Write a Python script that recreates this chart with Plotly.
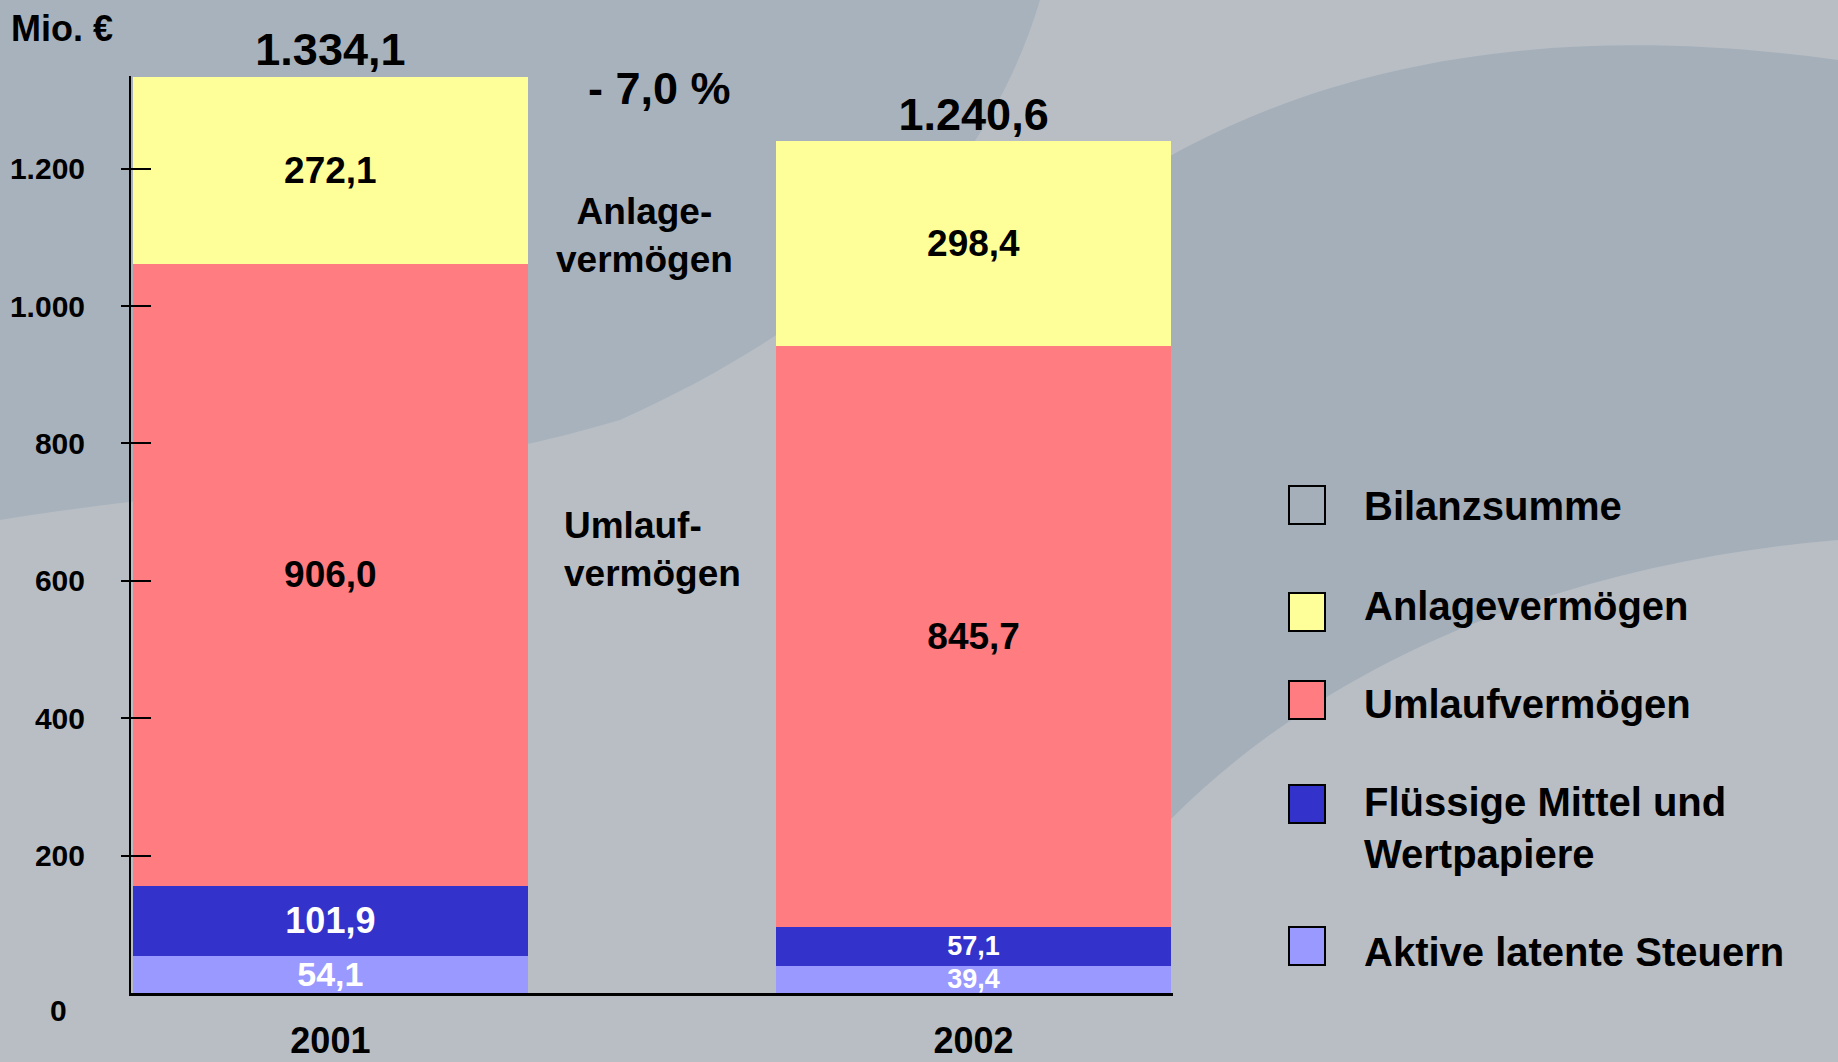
import plotly.graph_objects as go

# ---- data ----
years = ["2001", "2002"]
series_names = ["Aktive latente Steuern", "Flüssige Mittel und Wertpapiere",
                "Umlaufvermögen", "Anlagevermögen"]
aktive_latente_steuern = [54.1, 39.4]
fluessige_mittel = [101.9, 57.1]
umlaufvermoegen = [906.0, 845.7]
anlagevermoegen = [272.1, 298.4]
series_values = [aktive_latente_steuern, fluessige_mittel, umlaufvermoegen, anlagevermoegen]
series_colors = ["#9999ff", "#3333cc", "#ff7c80", "#ffff99"]
text_colors = ["white", "white", "black", "black"]
text_sizes = [[34, 27], [36, 27], [37, 37], [37, 37]]
y_ticks = [0, 200, 400, 600, 800, 1000, 1200]
legend_names = ["Bilanzsumme", "Anlagevermögen", "Umlaufvermögen",
                "Flüssige Mittel und<br>Wertpapiere", "Aktive latente Steuern"]
legend_colors = ["rgba(0,0,0,0)", "#ffff99", "#ff7c80", "#3333cc", "#9999ff"]

totals = [round(sum(v[i] for v in series_values), 1) for i in range(len(years))]
pct = (totals[1] - totals[0]) / totals[0] * 100

FONT = "Liberation Sans, Arial, sans-serif"
W, H = 1838, 1062
L, R, T, B = 131, 1173, 76, 993
Y_MAX = 1335


def px(x):
    return (x - L) / (R - L)


def py(y):
    return (B - y) / (B - T)


fig = go.Figure()

for name, vals, col, tcol, tsize in zip(series_names, series_values, series_colors,
                                       text_colors, text_sizes):
    fig.add_trace(go.Bar(
        x=years, y=vals, name=name,
        marker=dict(color=col, line=dict(width=0)),
        texttemplate="%{y:,.1f}", textposition="inside", insidetextanchor="middle",
        textangle=0, constraintext="none",
        insidetextfont=dict(family=FONT, size=tsize, color=tcol, weight="bold"),
        showlegend=False,
    ))

fig.add_trace(go.Scatter(
    x=years, y=totals, mode="text", name="Bilanzsumme",
    texttemplate="%{y:,.1f}", textposition="top center",
    textfont=dict(family=FONT, size=45, color="black", weight="bold"),
    cliponaxis=False, showlegend=False,
))


def path(cmds):
    out = []
    for c in cmds:
        if isinstance(c, str):
            out.append(c)
        else:
            out.append(f"{px(c[0]):.4f},{py(c[1]):.4f}")
    return " ".join(out)


shapes = []
# background decoration (approximation of the slide background)
shapes.append(dict(type="path", xref="paper", yref="paper", layer="below",
                   path=path(["M", (0, 0), "L", (1040, 0), "C", (980, 200), (820, 330), (620, 420),
                              "C", (420, 480), (180, 490), (0, 520), "Z"]),
                   fillcolor="#a8b2bc", line=dict(width=0)))
shapes.append(dict(type="path", xref="paper", yref="paper", layer="below",
                   path=path(["M", (1100, 200), "C", (1300, 60), (1550, 20), (W, 60),
                              "L", (W, 540), "C", (1600, 560), (1350, 640), (1170, 820),
                              "L", (1100, 820), "Z"]),
                   fillcolor="#a5afba", line=dict(width=0)))

# legend squares
legend_box_y = [505, 612, 700, 804, 946]
legend_text_y = [506, 606, 704, 828, 952]
for yc, col in zip(legend_box_y, legend_colors):
    shapes.append(dict(type="rect", xref="paper", yref="paper",
                       x0=px(1289), x1=px(1325), y0=py(yc + 19), y1=py(yc - 19),
                       fillcolor=col, line=dict(color="black", width=2)))

annotations = []
for yc, name in zip(legend_text_y, legend_names):
    annotations.append(dict(xref="paper", yref="paper", x=px(1362), y=py(yc),
                            xanchor="left", yanchor="middle", align="left",
                            text=name, showarrow=False,
                            font=dict(family=FONT, size=40, color="black", weight="bold")))

annotations.append(dict(xref="paper", yref="paper", x=px(9), y=py(28),
                        xanchor="left", yanchor="middle", text="Mio. €", showarrow=False,
                        font=dict(family=FONT, size=36, color="black", weight="bold")))
annotations.append(dict(xref="paper", yref="paper", x=px(659), y=py(88),
                        xanchor="center", yanchor="middle",
                        text=f"- {abs(pct):.1f} %".replace(".", ","), showarrow=False,
                        font=dict(family=FONT, size=45, color="black", weight="bold")))
annotations.append(dict(xref="paper", yref="paper", x=px(644), y=py(236),
                        xanchor="center", yanchor="middle", align="center",
                        text="Anlage-<br>vermögen", showarrow=False,
                        font=dict(family=FONT, size=37, color="black", weight="bold")))
annotations.append(dict(xref="paper", yref="paper", x=px(562), y=py(549),
                        xanchor="left", yanchor="middle", align="left",
                        text="Umlauf-<br>vermögen", showarrow=False,
                        font=dict(family=FONT, size=37, color="black", weight="bold")))
annotations.append(dict(xref="paper", yref="y", x=px(58), y=0, yshift=-17,
                        xanchor="center", yanchor="middle", text="0", showarrow=False,
                        font=dict(family=FONT, size=30, color="black", weight="bold")))

fig.update_layout(
    width=W, height=H,
    margin=dict(l=L, r=W - R, t=T, b=H - B, pad=0, autoexpand=False),
    barmode="stack", bargap=0.387,
    separators=",.",
    paper_bgcolor="#b9bec4", plot_bgcolor="rgba(0,0,0,0)",
    shapes=shapes, annotations=annotations,
    showlegend=False,
    font=dict(family=FONT, color="black"),
)
fig.update_xaxes(
    range=[-0.31, 1.31], showline=True, linecolor="black", linewidth=3,
    showgrid=False, zeroline=False, ticks="", automargin=False,
    tickfont=dict(family=FONT, size=36, color="black", weight="bold"),
    ticklabelstandoff=14,
)
fig.update_yaxes(
    range=[0, Y_MAX], showline=True, linecolor="black", linewidth=2,
    showgrid=False, zeroline=False, automargin=False,
    tickmode="array", tickvals=y_ticks,
    ticktext=["" if v == 0 else f"{v:,}".replace(",", ".") for v in y_ticks],
    ticks="inside", ticklen=20, tickwidth=2, tickcolor="black",
    minor=dict(tickmode="array", tickvals=y_ticks, ticks="outside", ticklen=8,
               tickwidth=2, tickcolor="black", showgrid=False),
    tickfont=dict(family=FONT, size=30, color="black", weight="bold"),
    ticklabelstandoff=38,
)

fig.write_html("out.html", config={"displayModeBar": False},
               post_script="document.body.style.margin='0';")
